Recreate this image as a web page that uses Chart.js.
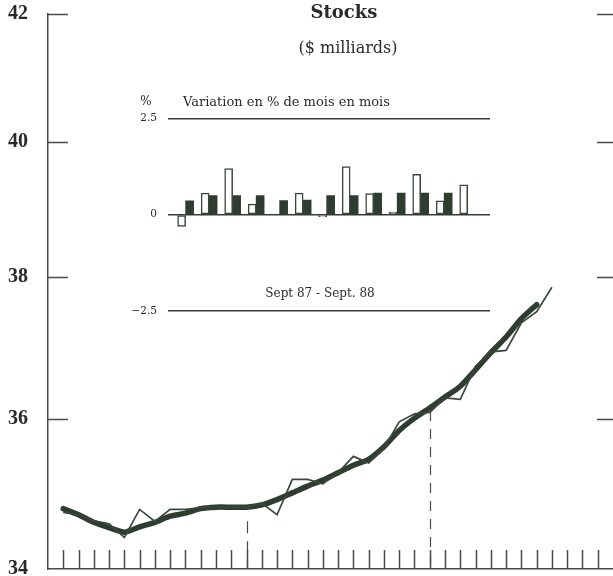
<!DOCTYPE html>
<html>
<head>
<meta charset="utf-8">
<script src="https://cdn.jsdelivr.net/npm/chart.js@4.4.0/dist/chart.umd.min.js"></script>
<style>
  html, body { margin: 0; padding: 0; background: #ffffff; }
  #wrap { position: relative; width: 613px; height: 576px; overflow: hidden; }
  #main { position: absolute; left: 0; top: 0; }
  #insetBox { position: absolute; left: 100px; top: 90px; width: 400px; height: 250px; }
  .txt { position: absolute; white-space: nowrap; line-height: 1; color: #2b2b2b; font-family: "DejaVu Serif", serif; }
  .c { transform: translate(-50%, -50%); }
  .l { transform: translate(0, -50%); }
</style>
</head>
<body>
<div id="wrap">
  <canvas id="main" width="613" height="576"></canvas>
  <div id="insetBox"><canvas id="inset" width="400" height="250"></canvas></div>
  <div class="txt c" style="left:344px;top:12px;font-size:18px;font-weight:bold;">Stocks</div>
  <div class="txt c" style="left:348px;top:48px;font-size:16px;">($ milliards)</div>
  <div class="txt c" style="left:146px;top:101px;font-size:12px;">%</div>
  <div class="txt l" style="left:183px;top:101px;font-size:13px;">Variation en % de mois en mois</div>
  <div class="txt c" style="left:320px;top:293px;font-size:12px;">Sept 87 - Sept. 88</div>
</div>
<script>
// ---------- DATA ----------
const monthLabels = [
  'janv 86','févr 86','mars 86','avr 86','mai 86','juin 86','juil 86','août 86','sept 86','oct 86','nov 86','déc 86',
  'janv 87','févr 87','mars 87','avr 87','mai 87','juin 87','juil 87','août 87','sept 87','oct 87','nov 87','déc 87',
  'janv 88','févr 88','mars 88','avr 88','mai 88','juin 88','juil 88','août 88','sept 88','oct 88','nov 88','déc 88'
];
// Stocks ($ milliards), monthly raw series
const stocks = [34.74, 34.71, 34.63, 34.59, 34.41, 34.78, 34.62, 34.78, 34.78, 34.80, 34.81, 34.81,
                34.81, 34.86, 34.71, 35.18, 35.18, 35.12, 35.27, 35.49, 35.40, 35.60, 35.96, 36.07,
                36.09, 36.29, 36.27, 36.73, 36.93, 36.95, 37.34, 37.50, 37.85];
// Trend (smoothed) series
const trend = [34.79, 34.71, 34.61, 34.54, 34.48, 34.55, 34.61, 34.69, 34.73, 34.79, 34.81, 34.81,
               34.81, 34.84, 34.91, 35.00, 35.09, 35.17, 35.27, 35.37, 35.45, 35.62, 35.84, 36.01,
               36.15, 36.30, 36.45, 36.68, 36.92, 37.14, 37.40, 37.60];
const yTicks = [34, 36, 38, 40, 42];
// Inset: month-to-month % change, Sept 87 - Sept 88
const barMonths = ['Sept 87','Oct 87','Nov 87','Déc 87','Janv 88','Févr 88','Mars 88','Avr 88','Mai 88','Juin 88','Juil 88','Août 88','Sept 88'];
const changeRaw = [-0.30, 0.56, 1.20, 0.28, 0.00, 0.56, -0.05, 1.25, 0.55, 0.07, 1.05, 0.36, 0.78];
const changeTrend = [0.36, 0.50, 0.50, 0.50, 0.37, 0.38, 0.50, 0.50, 0.56, 0.56, 0.56, 0.56, null];
const insetTicks = [-2.5, 0, 2.5];
const yearMarks = [12, 24];

// ---------- STYLE ----------
const INK = '#2f3c30';
const INK2 = '#3a473b';
const AXIS = '#4a4a4a';

const axisMarks = {
  id: 'axisMarks',
  afterDatasetsDraw(chart) {
    const {ctx, chartArea: a, scales: {x, y}} = chart;
    ctx.save();
    ctx.strokeStyle = AXIS;
    ctx.lineWidth = 1.5;
    ctx.beginPath();
    monthLabels.forEach((m, i) => {
      const px = Math.round(x.getPixelForValue(i)) + 0.5;
      ctx.moveTo(px, a.bottom);
      ctx.lineTo(px, a.bottom - 19);
    });
    yTicks.slice(1).forEach(v => {
      const py = Math.round(y.getPixelForValue(v)) + 0.5;
      ctx.moveTo(a.left, py); ctx.lineTo(a.left + 20, py);
      ctx.moveTo(a.right - 16, py); ctx.lineTo(a.right, py);
    });
    ctx.stroke();
    // dashed year markers dropping from the trend line
    const gaps = {12: 14, 24: 3};
    const dashes = {12: [12, 8], 24: [10, 8]};
    ctx.lineWidth = 1.2;
    yearMarks.forEach(i => {
      const px = Math.round(x.getPixelForValue(i)) + 0.5;
      const top = y.getPixelForValue(trend[i]) + gaps[i];
      ctx.setLineDash(dashes[i]);
      ctx.beginPath();
      ctx.moveTo(px, top);
      ctx.lineTo(px, a.bottom);
      ctx.stroke();
    });
    ctx.restore();
  }
};

new Chart(document.getElementById('main'), {
  type: 'line',
  data: {
    datasets: [
      {
        label: 'Stocks',
        data: stocks.map((v, i) => ({x: i, y: v})),
        borderColor: INK2, borderWidth: 1.7, pointRadius: 0, tension: 0, fill: false
      },
      {
        label: 'Tendance',
        data: trend.map((v, i) => ({x: i, y: v})),
        borderColor: INK, borderWidth: 5.5, pointRadius: 0, tension: 0.25, fill: false,
        borderCapStyle: 'round', borderJoinStyle: 'round'
      }
    ]
  },
  options: {
    responsive: false,
    animation: false,
    devicePixelRatio: 1,
    layout: {padding: {top: 14, right: 0, bottom: 0, left: 0}},
    plugins: {legend: {display: false}, tooltip: {enabled: false}, title: {display: false}},
    scales: {
      x: {
        type: 'linear', min: -1, max: 36,
        grid: {display: false, drawTicks: false},
        border: {display: true, color: AXIS, width: 1.5},
        ticks: {display: false},
        afterFit(s) { s.height = 7; s.paddingLeft = 0; s.paddingRight = 0; }
      },
      y: {
        type: 'logarithmic', min: 34, max: 42,
        grid: {display: false, drawTicks: false},
        border: {display: true, color: AXIS, width: 1.5},
        afterBuildTicks(s) { s.ticks = yTicks.map(v => ({value: v})); },
        ticks: {
          padding: 20,
          color: '#2a2a2a',
          font: {family: '"Liberation Serif", serif', size: 20, weight: 'bold'},
          callback: (v) => String(v)
        },
        afterFit(s) { s.width = 48; s.paddingTop = 0; s.paddingBottom = 0; }
      }
    }
  },
  plugins: [axisMarks]
});

new Chart(document.getElementById('inset'), {
  type: 'bar',
  data: {
    datasets: [
      {
        label: 'Variation (données)',
        data: changeRaw.map((v, i) => ({x: i, y: v})),
        backgroundColor: '#ffffff', borderColor: INK2, borderWidth: 1.5, borderSkipped: false,
        barThickness: 8, grouped: true
      },
      {
        label: 'Variation (tendance)',
        data: changeTrend.map((v, i) => ({x: i, y: v})),
        backgroundColor: INK, borderWidth: 0,
        barThickness: 8, grouped: true
      }
    ]
  },
  options: {
    responsive: false,
    animation: false,
    devicePixelRatio: 1,
    layout: {padding: {top: 28.5, right: 10, bottom: 29, left: 28}},
    plugins: {legend: {display: false}, tooltip: {enabled: false}},
    scales: {
      x: {
        type: 'linear', min: -0.75, max: 12.95, display: false,
        offset: false
      },
      y: {
        min: -2.5, max: 2.5,
        afterBuildTicks(s) { s.ticks = insetTicks.map(v => ({value: v})); },
        grid: {color: '#333d33', lineWidth: 1.6, drawTicks: false},
        border: {display: false},
        ticks: {
          padding: 11,
          color: '#2b2b2b',
          font: {family: '"DejaVu Serif", serif', size: 10.5},
          callback: (v) => (v < 0 ? '\u2212' + Math.abs(v) : String(v))
        },
        afterFit(s) { s.width = 40; s.paddingTop = 0; s.paddingBottom = 0; }
      }
    }
  }
});
</script>
</body>
</html>
